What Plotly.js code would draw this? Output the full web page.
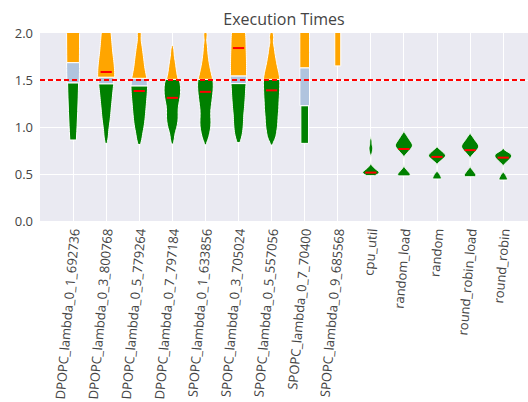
<!DOCTYPE html>
<html>
<head>
<meta charset="utf-8">
<script src="https://cdn.plot.ly/plotly-3.0.1.min.js"></script>
<style>html,body{margin:0;padding:0;background:#fff;}#chart{width:528px;height:402px;}</style>
</head>
<body>
<div id="chart"></div>
<script>
// ---------------- data ----------------
const categories = [
  "DPOPC_lambda_0_1_692736", "DPOPC_lambda_0_3_800768", "DPOPC_lambda_0_5_779264",
  "DPOPC_lambda_0_7_797184", "SPOPC_lambda_0_1_633856", "SPOPC_lambda_0_3_705024",
  "SPOPC_lambda_0_5_557056", "SPOPC_lambda_0_7_70400", "SPOPC_lambda_0_9_685568",
  "cpu_util", "random_load", "random", "round_robin_load", "round_robin"
];

const times_DPOPC_0_1 = [0.862, 0.95, 1.07, 1.15, 1.27, 1.35, 1.46, 1.57, 1.65, 1.77, 1.86, 1.95, 2.08, 2.14, 2.27, 2.36, 2.45, 2.58, 2.64, 2.77, 2.85, 2.97, 3.05, 3.18, 3.24, 3.38];
const times_DPOPC_0_3 = [0.896, 1.005, 1.077, 1.137, 1.191, 1.241, 1.287, 1.329, 1.370, 1.408, 1.444, 1.478, 1.511, 1.543, 1.575, 1.607, 1.641, 1.675, 1.710, 1.748, 1.790, 1.833, 1.879, 1.929, 1.981, 2.038, 2.104, 2.185, 2.315];
const times_DPOPC_0_5 = [0.869, 0.953, 1.010, 1.058, 1.102, 1.144, 1.183, 1.221, 1.257, 1.292, 1.326, 1.358, 1.389, 1.420, 1.450, 1.480, 1.511, 1.545, 1.582, 1.625, 1.675, 1.727, 1.789, 1.869, 1.998];
const times_DPOPC_0_7 = [0.872, 0.95, 0.995, 1.03, 1.061, 1.09, 1.119, 1.148, 1.179, 1.209, 1.239, 1.265, 1.289, 1.312, 1.334, 1.354, 1.375, 1.395, 1.416, 1.437, 1.458, 1.478, 1.501, 1.528, 1.560, 1.594, 1.632, 1.676, 1.729, 1.814];
const times_SPOPC_0_1 = [0.873, 0.928, 0.969, 1.005, 1.038, 1.071, 1.106, 1.142, 1.179, 1.214, 1.246, 1.275, 1.304, 1.332, 1.357, 1.382, 1.407, 1.430, 1.454, 1.478, 1.501, 1.526, 1.555, 1.585, 1.621, 1.663, 1.714, 1.778, 1.862, 1.982];
const times_SPOPC_0_3 = [0.894, 0.976, 1.041, 1.105, 1.169, 1.221, 1.273, 1.322, 1.368, 1.413, 1.459, 1.500, 1.540, 1.581, 1.622, 1.662, 1.703, 1.744, 1.785, 1.827, 1.871, 1.914, 1.957, 2.001, 2.050, 2.100, 2.150, 2.199, 2.266, 2.333, 2.400, 2.533];
const times_SPOPC_0_5 = [0.871, 0.919, 0.964, 1.002, 1.038, 1.072, 1.107, 1.141, 1.172, 1.202, 1.232, 1.262, 1.292, 1.320, 1.348, 1.375, 1.403, 1.430, 1.457, 1.483, 1.509, 1.536, 1.566, 1.595, 1.632, 1.670, 1.718, 1.773, 1.848, 1.963];
const times_SPOPC_0_7 = [0.826, 0.95, 1.08, 1.19, 1.31, 1.44, 1.55, 1.68, 1.79, 1.93, 2.05, 2.18, 2.3, 2.42, 2.55, 2.68, 2.8, 2.95, 3.1, 3.25, 3.42, 3.6];
const times_SPOPC_0_9 = [1.65, 1.8, 1.97, 2.1, 2.3, 2.45, 2.6, 2.8, 3.0, 3.2];
const times_cpu_util = [0.482, 0.488, 0.494, 0.499, 0.503, 0.507, 0.511, 0.514, 0.517, 0.520, 0.523, 0.527, 0.531, 0.536, 0.542, 0.549, 0.557, 0.567, 0.58, 0.72, 0.745, 0.765, 0.78, 0.80, 0.83, 0.86];
const times_random_load = [0.48, 0.486, 0.495, 0.506, 0.522, 0.545, 0.720, 0.742, 0.757, 0.769, 0.780, 0.789, 0.798, 0.806, 0.815, 0.824, 0.834, 0.845, 0.858, 0.872, 0.889, 0.915];
const times_random = [0.447, 0.458, 0.476, 0.50, 0.635, 0.653, 0.666, 0.676, 0.685, 0.693, 0.700, 0.708, 0.717, 0.728, 0.741, 0.759];
const times_round_robin_load = [0.471, 0.478, 0.488, 0.50, 0.518, 0.54, 0.709, 0.731, 0.746, 0.758, 0.768, 0.777, 0.786, 0.794, 0.802, 0.811, 0.820, 0.831, 0.842, 0.856, 0.873, 0.897];
const times_round_robin = [0.436, 0.447, 0.465, 0.49, 0.621, 0.640, 0.654, 0.664, 0.674, 0.682, 0.690, 0.699, 0.706, 0.715, 0.725, 0.740];

const timeSamples = [
  times_DPOPC_0_1, times_DPOPC_0_3, times_DPOPC_0_5, times_DPOPC_0_7,
  times_SPOPC_0_1, times_SPOPC_0_3, times_SPOPC_0_5, times_SPOPC_0_7, times_SPOPC_0_9,
  times_cpu_util, times_random_load, times_random, times_round_robin_load, times_round_robin
];

// colour band boundaries (execution time where the band changes)
const blueFrom   = [1.47, 1.46, 1.438, 1.507, 1.507, 1.462, 1.507, 1.227, 1.65, null, null, null, null, null];
const orangeFrom = [1.685, 1.53, 1.518, 1.507, 1.507, 1.544, 1.507, 1.63, 1.65, null, null, null, null, null];

// mean execution time per method
const meanTimes = [2.15, 1.585, 1.383, 1.31, 1.374, 1.84, 1.39, 2.2, 2.4, 0.515, 0.766, 0.682, 0.754, 0.674];

const threshold = 1.5;

// ---------------- style ----------------
const bandwidths = [0.5, 0.06, 0.055, 0.045, 0.045, 0.06, 0.045, 5, 5, 0.018, 0.02, 0.016, 0.02, 0.016];
const padLow  = [0, 1.2, 1.0, 1.2, 1.4, 1.0, 1.4, 0, 0, 0, 0, 0, 0, 0];
const padHigh = [0, 1.5, 1.0, 1.2, 1.4, 1.5, 1.4, 0, 0, 2, 2, 2, 2, 2];
const segWidthPx = [
  [10, 12, 12], [14, 14.5, 16], [15.5, 15.3, 14], [15.5, 0, 10.7], [14.7, 0, 13.3],
  [14, 15.3, 15], [15.3, 0, 15.3], [6.7, 8.7, 8.7], [0, 0, 5],
  [15.3], [16], [16], [16], [15.7]
];
const bandColors = ["#008000", "#B0C4DE", "#FFA500"];

const W = 528, H = 402;
const margin = {l: 40, r: 0, t: 33, b: 181};
const xRange = [-1.0, 13.75];
const pxPerUnit = (W - margin.l - margin.r) / (xRange[1] - xRange[0]);

const traces = [];
categories.forEach((cat, i) => {
  const s = timeSamples[i];
  const h = bandwidths[i];
  const lo = Math.min(...s) - padLow[i] * h;
  const hi = Math.max(...s) + padHigh[i] * h;
  const b = blueFrom[i] == null ? hi : Math.max(lo, blueFrom[i]);
  const o = orangeFrom[i] == null ? hi : Math.max(lo, orangeFrom[i]);
  const segs = [[lo, b], [b, o], [o, hi]];
  segs.forEach((seg, k) => {
    if (seg[1] - seg[0] <= 1e-6) return;
    traces.push({
      type: 'violin',
      x: s.map(() => cat),
      y: s,
      bandwidth: h,
      spanmode: 'manual',
      span: seg,
      scalemode: 'width',
      scalegroup: cat + '_' + k,
      width: (segWidthPx[i][k] + 1) / pxPerUnit,
      fillcolor: bandColors[k],
      line: {color: 'white', width: 1},
      points: false,
      box: {visible: false},
      meanline: {visible: false},
      hoverinfo: 'skip',
      showlegend: false,
      opacity: 1
    });
  });
});

traces.push({
  type: 'scatter',
  mode: 'markers',
  x: categories,
  y: meanTimes,
  marker: {symbol: 'line-ew', size: 8, color: 'red', line: {color: 'red', width: 2}},
  cliponaxis: true,
  showlegend: false,
  hoverinfo: 'skip'
});

const layout = {
  width: W, height: H,
  margin: Object.assign({pad: 0}, margin),
  paper_bgcolor: 'white',
  plot_bgcolor: '#EAEAF2',
  font: {family: '"Open Sans", sans-serif', size: 13, color: '#444'},
  title: {text: 'Execution Times', font: {size: 16, color: '#444'}, x: 0.5, xref: 'paper', xanchor: 'center', y: 1 - 19 / H, yref: 'container', yanchor: 'middle'},
  violinmode: 'overlay', violingap: 0, violingroupgap: 0,
  showlegend: false,
  xaxis: {type: 'category', categoryorder: 'array', categoryarray: categories, range: xRange,
          tickangle: -85, showgrid: true, gridcolor: 'white', gridwidth: 1, zeroline: false,
          showline: false, ticks: '', automargin: false},
  yaxis: {range: [0, 2], tick0: 0, dtick: 0.5, tickformat: '.1f', showgrid: true, gridcolor: 'white',
          gridwidth: 1, zeroline: false, showline: false, ticks: '', automargin: false, ticklabelstandoff: 6},
  shapes: [{type: 'line', xref: 'paper', x0: 0, x1: 1, yref: 'y', y0: threshold, y1: threshold,
            line: {color: 'red', width: 2, dash: '5px,3px'}}]
};

Plotly.newPlot('chart', traces, layout, {displayModeBar: false, staticPlot: true});
</script>
</body>
</html>
